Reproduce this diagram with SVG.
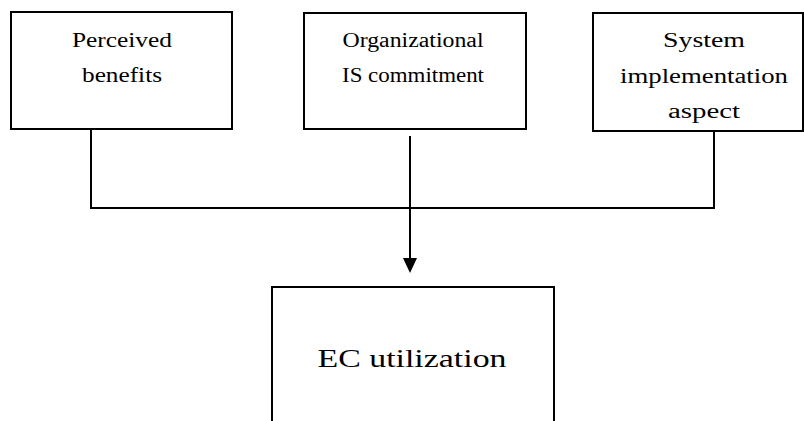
<svg xmlns="http://www.w3.org/2000/svg" width="804" height="421" viewBox="0 0 804 421">
<style>
.box{fill:#fff;stroke:#000;stroke-width:2}
.t{font-family:"Liberation Serif","DejaVu Serif",serif;font-size:20px;fill:#000;text-anchor:middle}
.big{font-size:26px}
.ln{fill:none;stroke:#000;stroke-width:2}
</style>
<rect width="804" height="421" fill="#fff"/>
<g id="perceived-benefits">
<rect class="box" x="11" y="12" width="221" height="117"/>
<text class="t" x="122" y="47" textLength="100" lengthAdjust="spacingAndGlyphs">Perceived</text>
<text class="t" x="122" y="82" textLength="80" lengthAdjust="spacingAndGlyphs">benefits</text>
</g>
<g id="org-is-commitment">
<rect class="box" x="304" y="13" width="222" height="116"/>
<text class="t" x="413" y="47" textLength="141" lengthAdjust="spacingAndGlyphs">Organizational</text>
<text class="t" x="413" y="82" textLength="142" lengthAdjust="spacingAndGlyphs">IS commitment</text>
</g>
<g id="system-implementation">
<rect class="box" x="593" y="13" width="210" height="118"/>
<text class="t" x="704" y="47" textLength="82" lengthAdjust="spacingAndGlyphs">System</text>
<text class="t" x="704" y="83" textLength="168" lengthAdjust="spacingAndGlyphs">implementation</text>
<text class="t" x="704" y="118" textLength="72" lengthAdjust="spacingAndGlyphs">aspect</text>
</g>
<g id="ec-utilization">
<rect class="box" x="272" y="287" width="282" height="140"/>
<text class="t big" x="412" y="367" textLength="189" lengthAdjust="spacingAndGlyphs">EC utilization</text>
</g>
<g id="connectors">
<polyline class="ln" points="91,129 91,208 714,208 714,131"/>
<line class="ln" x1="410" y1="136" x2="410" y2="260"/>
<polygon points="403,258 417,258 410,273" fill="#000"/>
</g>
</svg>
